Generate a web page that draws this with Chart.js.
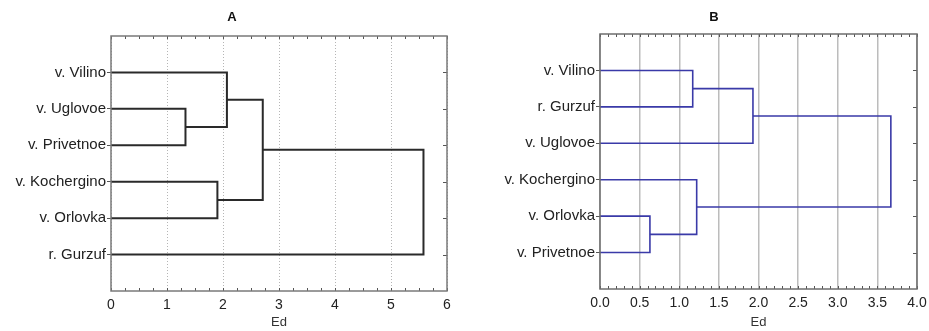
<!DOCTYPE html>
<html><head><meta charset="utf-8">
<script src="https://cdn.jsdelivr.net/npm/chart.js@4"></script>
<style>
html,body{margin:0;padding:0;background:#fff;}
#wrap{position:relative;width:929px;height:331px;overflow:hidden;}
canvas{position:absolute;top:0;}
</style></head><body>
<div id="wrap">
<canvas id="a" width="465" height="331" style="left:0"></canvas>
<canvas id="b" width="464" height="331" style="left:465px"></canvas>
</div>
<script>
// ---- Panel A ----
const titleA = 'A';
const leavesA = ['v. Vilino', 'v. Uglovoe', 'v. Privetnoe', 'v. Kochergino', 'v. Orlovka', 'r. Gurzuf'];
// merge k joins nodes mergeLeft[k] and mergeRight[k] (leaf i = i, merge k = leaves.length + k)
const mergeLeftA = [1, 0, 3, 7, 9];
const mergeRightA = [2, 6, 4, 8, 5];
const mergeHeightA = [1.33, 2.07, 1.90, 2.71, 5.58];
const xTicksA = [0, 1, 2, 3, 4, 5, 6];

// ---- Panel B ----
const titleB = 'B';
const leavesB = ['v. Vilino', 'r. Gurzuf', 'v. Uglovoe', 'v. Kochergino', 'v. Orlovka', 'v. Privetnoe'];
const mergeLeftB = [0, 6, 4, 3, 7];
const mergeRightB = [1, 2, 5, 8, 9];
const mergeHeightB = [1.17, 1.93, 0.63, 1.22, 3.67];
const xTicksB = [0, 0.5, 1, 1.5, 2, 2.5, 3, 3.5, 4];

const axisTitle = 'Ed';
const FONT = '"Liberation Sans", Arial, sans-serif';

function buildLinks(leaves, L, R, H, color, width) {
  const n = leaves.length;
  const pos = leaves.map((_, i) => ({x: 0, y: i + 1}));
  const sets = [];
  for (let k = 0; k < H.length; k++) {
    const a = pos[L[k]], b = pos[R[k]], h = H[k];
    sets.push({
      data: [{x: a.x, y: a.y}, {x: h, y: a.y}, {x: h, y: b.y}, {x: b.x, y: b.y}],
      showLine: true, borderColor: color, borderWidth: width, pointRadius: 0,
      tension: 0, fill: false, clip: false
    });
    pos.push({x: h, y: (a.y + b.y) / 2});
  }
  return sets;
}

const framePlugin = {
  id: 'frame',
  afterDraw(chart, args, o) {
    const {ctx, chartArea: {left, right, top, bottom}, scales: {x, y}} = chart;
    ctx.save();
    ctx.strokeStyle = o.tickColor; ctx.lineWidth = 1;
    const line = (x1, y1, x2, y2) => { ctx.beginPath(); ctx.moveTo(x1, y1); ctx.lineTo(x2, y2); ctx.stroke(); };
    for (let v = x.min; v <= x.max + 1e-9; v += o.minorStep) {
      const px = Math.round(x.getPixelForValue(v)) + 0.5;
      line(px, top, px, top + 3);
      line(px, bottom, px, bottom - 3);
    }
    y.ticks.forEach(t => {
      const py = Math.round(y.getPixelForValue(t.value)) + 0.5;
      line(right, py, right - 4, py);
    });
    ctx.strokeStyle = o.color; ctx.lineWidth = o.width;
    ctx.strokeRect(left, top, right - left, bottom - top);
    ctx.font = 'bold 13px ' + FONT;
    ctx.fillStyle = '#111'; ctx.textAlign = 'center'; ctx.textBaseline = 'middle';
    ctx.fillText(o.title, o.titleX, 17);
    ctx.restore();
  }
};

function makeChart(id, cfg) {
  return new Chart(document.getElementById(id), {
    type: 'scatter',
    data: {datasets: buildLinks(cfg.leaves, cfg.L, cfg.R, cfg.H, cfg.color, cfg.lw)},
    plugins: [framePlugin],
    options: {
      responsive: false, animation: false, devicePixelRatio: 1,
      layout: {padding: cfg.padding},
      plugins: {legend: {display: false}, tooltip: {enabled: false},
        frame: {color: cfg.frameColor, width: 1.5, tickColor: '#555', minorStep: cfg.minorStep, title: cfg.title, titleX: cfg.titleX}},
      scales: {
        x: {
          type: 'linear', min: cfg.xTicks[0], max: cfg.xTicks[cfg.xTicks.length - 1],
          afterBuildTicks: s => { s.ticks = cfg.xTicks.map(v => ({value: v})); },
          afterFit: s => { s.height = cfg.xHeight; s.paddingLeft = 0; s.paddingRight = 0; },
          grid: {color: cfg.gridColor, lineWidth: cfg.gridWidth, drawTicks: false},
          border: {display: false, dash: cfg.gridDash},
          ticks: {padding: 6, color: '#222', font: {family: FONT, size: 14}, maxRotation: 0,
            callback: v => cfg.decimals ? Number(v).toFixed(1) : String(v)},
          title: {display: true, text: axisTitle, color: '#333', font: {family: FONT, size: 13}, padding: {top: 0, bottom: 1}}
        },
        y: {
          type: 'linear', reverse: true, min: 0, max: cfg.leaves.length + 1,
          afterBuildTicks: s => { s.ticks = cfg.leaves.map((_, i) => ({value: i + 1})); },
          afterFit: s => { s.width = cfg.yWidth; },
          grid: {drawOnChartArea: false, drawTicks: true, tickLength: 4, color: '#555'},
          border: {display: false},
          ticks: {autoSkip: false, padding: 1, color: '#222', font: {family: FONT, size: 15},
            callback: v => cfg.leaves[v - 1] || ''}
        }
      }
    }
  });
}

makeChart('a', {
  leaves: leavesA, L: mergeLeftA, R: mergeRightA, H: mergeHeightA, xTicks: xTicksA,
  color: '#2a2a2a', lw: 2, padding: {left: 0, right: 18, top: 36, bottom: 0},
  xHeight: 40, yWidth: 111, gridColor: '#b5b5b5', gridWidth: 1, gridDash: [1, 2],
  frameColor: '#7a7a7a', minorStep: 0.25, title: titleA, titleX: 232, decimals: false
});
makeChart('b', {
  leaves: leavesB, L: mergeLeftB, R: mergeRightB, H: mergeHeightB, xTicks: xTicksB,
  color: '#3a3aa8', lw: 1.6, padding: {left: 0, right: 12, top: 34, bottom: 0},
  xHeight: 42, yWidth: 135, gridColor: '#bcbcbc', gridWidth: 1.5, gridDash: [],
  frameColor: '#6e6e6e', minorStep: 0.1, title: titleB, titleX: 249, decimals: true
});
</script>
</body></html>
